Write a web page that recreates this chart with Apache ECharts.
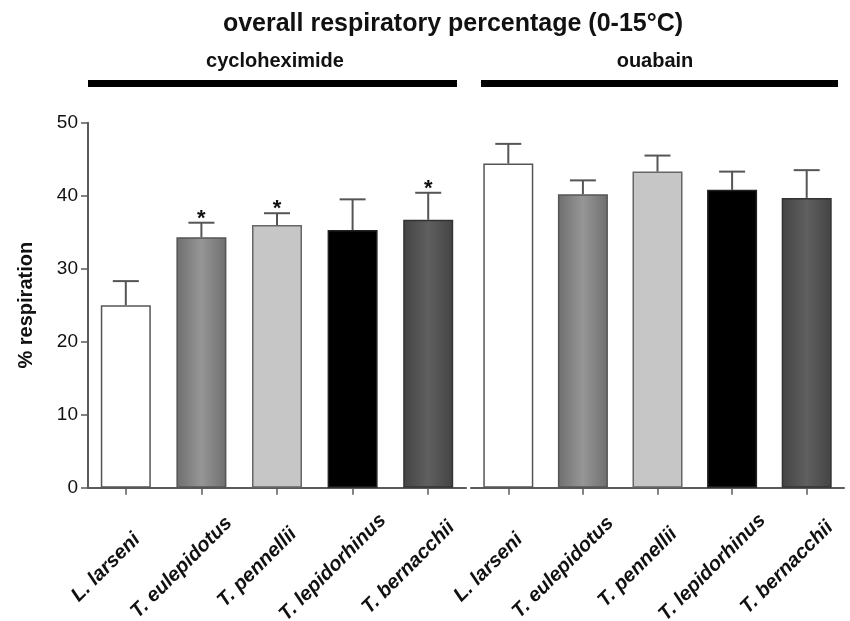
<!DOCTYPE html>
<html>
<head>
<meta charset="utf-8">
<script src="https://cdn.jsdelivr.net/npm/echarts@6/dist/echarts.min.js"></script>
<style>
html,body{margin:0;padding:0;background:#fff;}
#chart{width:850px;height:621px;}
</style>
</head>
<body>
<div id="chart"></div>
<script>
// ---- data ----
const categories = ['L. larseni', 'T. eulepidotus', 'T. pennellii', 'T. lepidorhinus', 'T. bernacchii'];
const cycloMeans = [25.0, 34.3, 36.0, 35.3, 36.7];
const cycloErr   = [3.3, 2.0, 1.6, 4.2, 3.7];
const cycloSig   = [0, 1, 1, 0, 1];
const ouabMeans  = [44.4, 40.2, 43.3, 40.8, 39.7];
const ouabErr    = [2.7, 1.9, 2.2, 2.5, 3.8];
const ouabSig    = [0, 0, 0, 0, 0];
const yTicks = { min: 0, max: 50, interval: 10 };
const titleText = 'overall respiratory percentage (0-15°C)';
const groupNames = ['cycloheximide', 'ouabain'];

// ---- styles ----
const FONT = '"Liberation Sans", Arial, Helvetica, sans-serif';
const axisColor = '#5a5a5a';
function hGrad(edge, mid) {
  return new echarts.graphic.LinearGradient(0, 0, 1, 0, [
    { offset: 0, color: edge }, { offset: 0.5, color: mid }, { offset: 1, color: edge }
  ]);
}
const palette = [
  { color: '#ffffff', borderColor: '#555' },
  { color: hGrad('#6f6f6f', '#969696'), borderColor: '#555' },
  { color: '#c6c6c6', borderColor: '#666' },
  { color: '#000000', borderColor: '#222' },
  { color: hGrad('#444444', '#5f5f5f'), borderColor: '#333' }
];

function barData(means) {
  return means.map((v, i) => ({
    value: v,
    itemStyle: { color: palette[i].color, borderColor: palette[i].borderColor, borderWidth: 1.5 }
  }));
}
function errData(means, errs, sig) {
  return means.map((v, i) => [i, v, v + errs[i], sig[i]]);
}
function renderErr(params, api) {
  const x = api.value(0), m = api.value(1), hi = api.value(2), sig = api.value(3);
  const p0 = api.coord([x, m]);
  const p1 = api.coord([x, hi]);
  const half = 13;
  const st = { stroke: '#555', lineWidth: 2 };
  const children = [
    { type: 'line', shape: { x1: p0[0], y1: p0[1], x2: p1[0], y2: p1[1] }, style: st },
    { type: 'line', shape: { x1: p1[0] - half, y1: p1[1], x2: p1[0] + half, y2: p1[1] }, style: st }
  ];
  if (sig) {
    children.push({
      type: 'text',
      style: { text: '*', x: p1[0], y: p1[1] - 4, align: 'center', verticalAlign: 'middle',
               font: 'bold 22px ' + FONT, fill: '#111' }
    });
  }
  return { type: 'group', children };
}
function groupLine(offL, offR) {
  return function (params, api) {
    const cs = params.coordSys;
    return {
      type: 'rect',
      shape: { x: cs.x + offL, y: cs.y - 42.7, width: cs.width - offL - offR, height: 7 },
      style: { fill: '#000' }
    };
  };
}

const xAxisCommon = {
  type: 'category',
  data: categories,
  axisLine: { show: true, lineStyle: { color: axisColor, width: 2 } },
  axisTick: { show: true, alignWithLabel: true, length: 7, lineStyle: { color: axisColor, width: 1.5 } },
  axisLabel: {
    interval: 0, rotate: 45, align: 'center', verticalAlign: 'middle',
    padding: [0, 56, 0, 0], margin: 60,
    fontSize: 20, fontWeight: 'bold', fontStyle: 'italic', fontFamily: FONT, color: '#111'
  },
  splitLine: { show: false }
};

const chart = echarts.init(document.getElementById('chart'), null, { renderer: 'canvas' });
chart.setOption({
  animation: false,
  backgroundColor: '#fff',
  grid: [
    { left: 88, right: 384, top: 122.7, bottom: 133.3, containLabel: false, outerBoundsMode: 'none' },
    { left: 471, right: 6, top: 122.7, bottom: 133.3, containLabel: false, outerBoundsMode: 'none' }
  ],
  graphic: [
    { type: 'text', x: 453, y: 24, style: { text: titleText, font: 'bold 25px ' + FONT, align: 'center', verticalAlign: 'middle', fill: '#111' } },
    { type: 'text', x: 275, y: 61, style: { text: groupNames[0], font: 'bold 20px ' + FONT, align: 'center', verticalAlign: 'middle', fill: '#111' } },
    { type: 'text', x: 655, y: 61, style: { text: groupNames[1], font: 'bold 20px ' + FONT, align: 'center', verticalAlign: 'middle', fill: '#111' } }
  ],
  xAxis: [
    Object.assign({ gridIndex: 0 }, xAxisCommon),
    Object.assign({ gridIndex: 1 }, xAxisCommon)
  ],
  yAxis: [
    {
      gridIndex: 0, type: 'value', min: yTicks.min, max: yTicks.max, interval: yTicks.interval,
      axisLine: { show: true, lineStyle: { color: axisColor, width: 2 } },
      axisTick: { show: true, length: 7, lineStyle: { color: axisColor, width: 1.5 } },
      axisLabel: { fontSize: 19, fontFamily: FONT, color: '#111', margin: 10 },
      splitLine: { show: false },
      name: '% respiration', nameLocation: 'middle', nameGap: 52, nameRotate: 90,
      nameTextStyle: { fontSize: 20, fontWeight: 'bold', fontFamily: FONT, color: '#111' }
    },
    { gridIndex: 1, type: 'value', min: yTicks.min, max: yTicks.max, interval: yTicks.interval, show: false, splitLine: { show: false } }
  ],
  series: [
    { type: 'bar', xAxisIndex: 0, yAxisIndex: 0, barWidth: 50, data: barData(cycloMeans), z: 2 },
    { type: 'bar', xAxisIndex: 1, yAxisIndex: 1, barWidth: 50, data: barData(ouabMeans), z: 2 },
    { type: 'custom', xAxisIndex: 0, yAxisIndex: 0, renderItem: renderErr, data: errData(cycloMeans, cycloErr, cycloSig), z: 3, encode: { x: 0, y: [1, 2] } },
    { type: 'custom', xAxisIndex: 1, yAxisIndex: 1, renderItem: renderErr, data: errData(ouabMeans, ouabErr, ouabSig), z: 3, encode: { x: 0, y: [1, 2] } },
    { type: 'custom', xAxisIndex: 0, yAxisIndex: 0, renderItem: groupLine(0, 9), data: [[0, 0]], silent: true },
    { type: 'custom', xAxisIndex: 1, yAxisIndex: 1, renderItem: groupLine(10, 6), data: [[0, 0]], silent: true }
  ]
});
</script>
</body>
</html>
